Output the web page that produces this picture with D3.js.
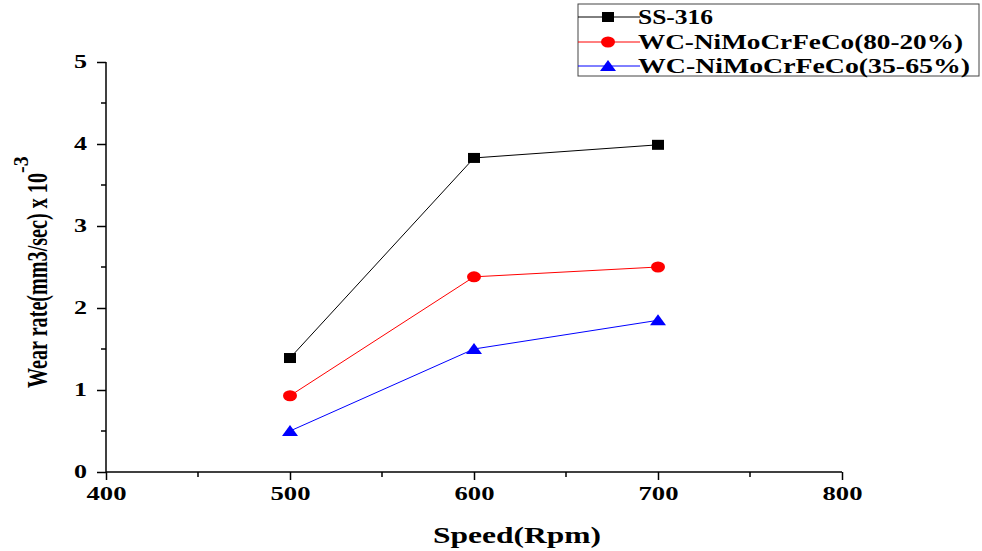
<!DOCTYPE html>
<html lang="en">
<head>
    <meta charset="UTF-8">
    <title>WearRate</title>
    <style>
        body { margin: 0; background: #fff; }
        text { font-family: "Liberation Serif", "Times New Roman", serif; font-weight: bold; }
    </style>
</head>
<body>
<script src="https://cdn.jsdelivr.net/npm/d3@7"></script>
<script>
    let w = 982, h = 551;
    let speeds = [500, 600, 700];
    let ss316 = [1.39, 3.83, 3.99];
    let wc8020 = [0.93, 2.38, 2.50];
    let wc3565 = [0.50, 1.50, 1.85];
    let names = ["SS-316", "WC-NiMoCrFeCo(80-20%)", "WC-NiMoCrFeCo(35-65%)"];
    let colors = ["#000000", "#ff0000", "#0000ff"];
    let shapes = ["square", "circle", "triangle"];
    let xTicks = [400, 500, 600, 700, 800];
    let yTicks = [0, 1, 2, 3, 4, 5];

    let series = [ss316, wc8020, wc3565];

    let svg = d3.select("body")
        .append("svg")
        .attr("width", w)
        .attr("height", h);

    let x = d3.scaleLinear().domain([400, 800]).range([106, 842]);
    let y = d3.scaleLinear().domain([0, 5]).range([472, 62]);

    // 坐标轴
    let xAxis = svg.append("g").attr("transform", "translate(0,472)");
    xAxis.call(d3.axisBottom(x).tickValues(xTicks).tickSize(8).tickFormat(d3.format("d")))
        .call(g => g.select(".domain").attr("stroke", "#000").attr("stroke-width", 1.5).attr("d", "M106,0H842"));
    xAxis.selectAll(".tick line").attr("stroke-width", 1.5);
    xAxis.selectAll(".tick text")
        .attr("y", 28).attr("dy", 0)
        .attr("textLength", 40).attr("lengthAdjust", "spacingAndGlyphs")
        .style("font-size", "18px").attr("fill", "#000");
    xAxis.selectAll(".minor")
        .data(d3.range(450, 800, 100))
        .enter().append("line")
        .attr("x1", d => x(d)).attr("x2", d => x(d))
        .attr("y1", 0).attr("y2", 5)
        .attr("stroke", "#000").attr("stroke-width", 1.5);

    let yAxis = svg.append("g").attr("transform", "translate(106,0)");
    yAxis.call(d3.axisLeft(y).tickValues(yTicks).tickSize(9).tickPadding(10).tickFormat(d3.format("d")))
        .call(g => g.select(".domain").attr("stroke", "#000").attr("stroke-width", 1.5).attr("d", "M0,472V62"));
    yAxis.selectAll(".tick line").attr("stroke-width", 1.5);
    yAxis.selectAll(".tick text")
        .attr("dy", "0.28em")
        .attr("textLength", 13).attr("lengthAdjust", "spacingAndGlyphs")
        .style("font-size", "18px").attr("fill", "#000");
    yAxis.selectAll(".minor")
        .data(d3.range(0.5, 5, 1))
        .enter().append("line")
        .attr("y1", d => y(d)).attr("y2", d => y(d))
        .attr("x1", 0).attr("x2", -5)
        .attr("stroke", "#000").attr("stroke-width", 1.5);

    // 轴标题
    svg.append("text")
        .attr("x", 433).attr("y", 543)
        .attr("textLength", 168).attr("lengthAdjust", "spacingAndGlyphs")
        .style("font-size", "24px")
        .text("Speed(Rpm)");

    let yl = svg.append("text")
        .attr("transform", "translate(47,388) rotate(-90)")
        .style("font-size", "29px");
    yl.append("tspan").attr("textLength", 215).attr("lengthAdjust", "spacingAndGlyphs").text("Wear rate(mm3/sec) x 10");
    yl.append("tspan").attr("dy", -19).style("font-size", "20px").text("-3");

    function marker(g, shape, color, cx, cy) {
        if (shape === "square") {
            g.append("rect").attr("x", cx - 6).attr("y", cy - 5).attr("width", 12).attr("height", 10).attr("fill", color);
        } else if (shape === "circle") {
            g.append("ellipse").attr("cx", cx).attr("cy", cy).attr("rx", 7).attr("ry", 5.5).attr("fill", color);
        } else {
            g.append("path").attr("d", "M" + (cx - 8) + "," + (cy + 5) + "L" + cx + "," + (cy - 6) + "L" + (cx + 8) + "," + (cy + 5) + "Z").attr("fill", color);
        }
    }

    let line = d3.line().x((d, i) => x(speeds[i])).y(d => y(d));
    for (let s = 0; s < series.length; ++s) {
        let g = svg.append("g");
        g.append("path")
            .attr("d", line(series[s]))
            .attr("fill", "none")
            .attr("stroke", colors[s])
            .attr("stroke-width", 1);
        for (let i = 0; i < speeds.length; ++i) {
            marker(g, shapes[s], colors[s], x(speeds[i]), y(series[s][i]));
        }
    }

    // 图例
    let leg = svg.append("g");
    leg.append("rect")
        .attr("x", 578).attr("y", 4).attr("width", 401).attr("height", 72)
        .attr("fill", "#fff").attr("stroke", "#444").attr("stroke-width", 1);
    let rowY = [17, 42, 66];
    let legLen = [75, 325, 332];
    for (let s = 0; s < names.length; ++s) {
        leg.append("line")
            .attr("x1", 578).attr("x2", 640)
            .attr("y1", rowY[s]).attr("y2", rowY[s])
            .attr("stroke", colors[s]).attr("stroke-width", 1);
        marker(leg, shapes[s], colors[s], 608, rowY[s]);
        leg.append("text")
            .attr("x", 638).attr("y", rowY[s] + 7)
            .attr("textLength", legLen[s]).attr("lengthAdjust", "spacingAndGlyphs")
            .style("font-size", "21px")
            .text(names[s]);
    }
</script>
</body>
</html>
